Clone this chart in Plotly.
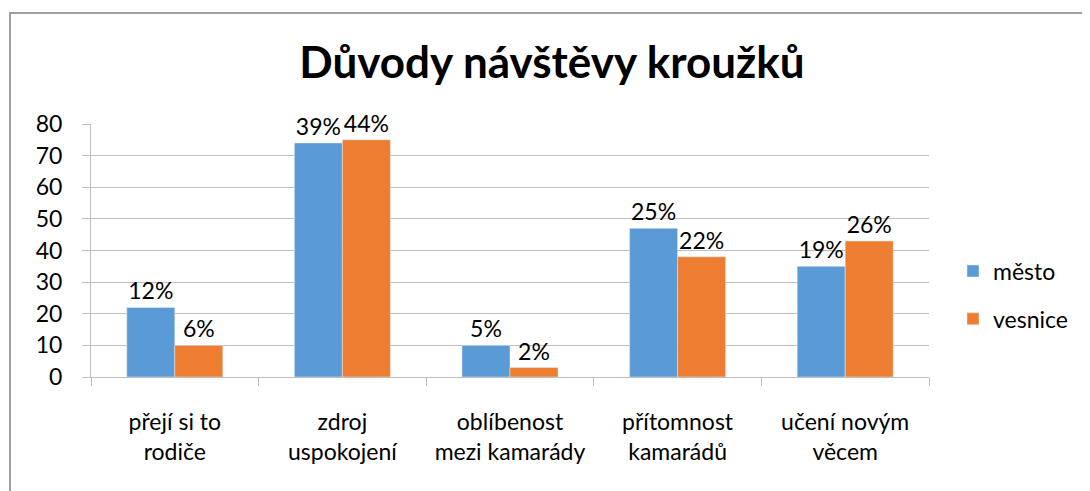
import plotly.graph_objects as go

categories = ["přejí si to<br>rodiče", "zdroj<br>uspokojení", "oblíbenost<br>mezi kamarády",
              "přítomnost<br>kamarádů", "učení novým<br>věcem"]
mesto = [22, 74, 10, 47, 35]
vesnice = [10, 75, 3, 38, 43]
mesto_pct = ["12%", "39%", "5%", "25%", "19%"]
vesnice_pct = ["6%", "44%", "2%", "22%", "26%"]
y_ticks = [0, 10, 20, 30, 40, 50, 60, 70, 80]

FONT = "Lato"
BLUE = "#5B9BD5"
ORANGE = "#ED7D31"
FS = 23

# page body has an 8px default margin; plot area target (screen): x 91..929, y 124..377
OFF = 8
L, R_EDGE, T, B_EDGE = 91 - OFF, 929 - OFF, 124 - OFF, 377 - OFF
W, H = 1090, 491
PW, PH = R_EDGE - L, B_EDGE - T

fig = go.Figure()
fig.add_trace(go.Bar(x=categories, y=mesto, name="město", marker_color=BLUE,
                     text=mesto_pct, textposition="outside", cliponaxis=False,
                     textfont=dict(size=FS, color="black", family=FONT), legendgroup="a"))
fig.add_trace(go.Bar(x=categories, y=vesnice, name="vesnice", marker_color=ORANGE,
                     text=vesnice_pct, textposition="outside", cliponaxis=False,
                     textfont=dict(size=FS, color="black", family=FONT), legendgroup="b"))

fig.update_layout(
    width=W, height=H,
    margin=dict(l=L, r=W - R_EDGE, t=T, b=H - B_EDGE, autoexpand=False),
    paper_bgcolor="white", plot_bgcolor="white",
    barmode="group", bargap=0.427, bargroupgap=0,
    font=dict(family=FONT, size=FS, color="black"),
    title=dict(text="<b>Důvody návštěvy kroužků</b>", x=(552 - OFF) / W, xanchor="center",
               y=1 - (63 - OFF) / H, yanchor="middle",
               font=dict(size=44, family=FONT, color="black")),
    legend=dict(x=(953 - 91) / PW, xanchor="left", y=(377 - 295) / PH, yanchor="middle",
                font=dict(size=FS, family=FONT), tracegroupgap=15,
                bgcolor="rgba(0,0,0,0)"),
    xaxis=dict(tickson="boundaries", ticks="outside", ticklen=8, tickcolor="#BFBFBF",
               showline=True, linecolor="#BFBFBF", linewidth=1, showgrid=False,
               tickfont=dict(size=FS, family=FONT), ticklabelstandoff=24),
    yaxis=dict(range=[0, 80], tickvals=y_ticks, ticks="outside", ticklen=8,
               tickcolor="#BFBFBF", showline=True, linecolor="#BFBFBF", linewidth=1,
               showgrid=True, gridcolor="#BFBFBF", gridwidth=1, zeroline=False,
               tickfont=dict(size=FS, family=FONT), ticklabelstandoff=15),
    shapes=[dict(type="rect", xref="paper", yref="paper",
                 x0=(10 - 91) / PW, x1=(1110 - 91) / PW,
                 y0=(377 - 520) / PH, y1=(377 - 13) / PH,
                 line=dict(color="#A0A0A0", width=2), fillcolor="rgba(0,0,0,0)",
                 layer="below")],
)

fig.write_html("out.html")
